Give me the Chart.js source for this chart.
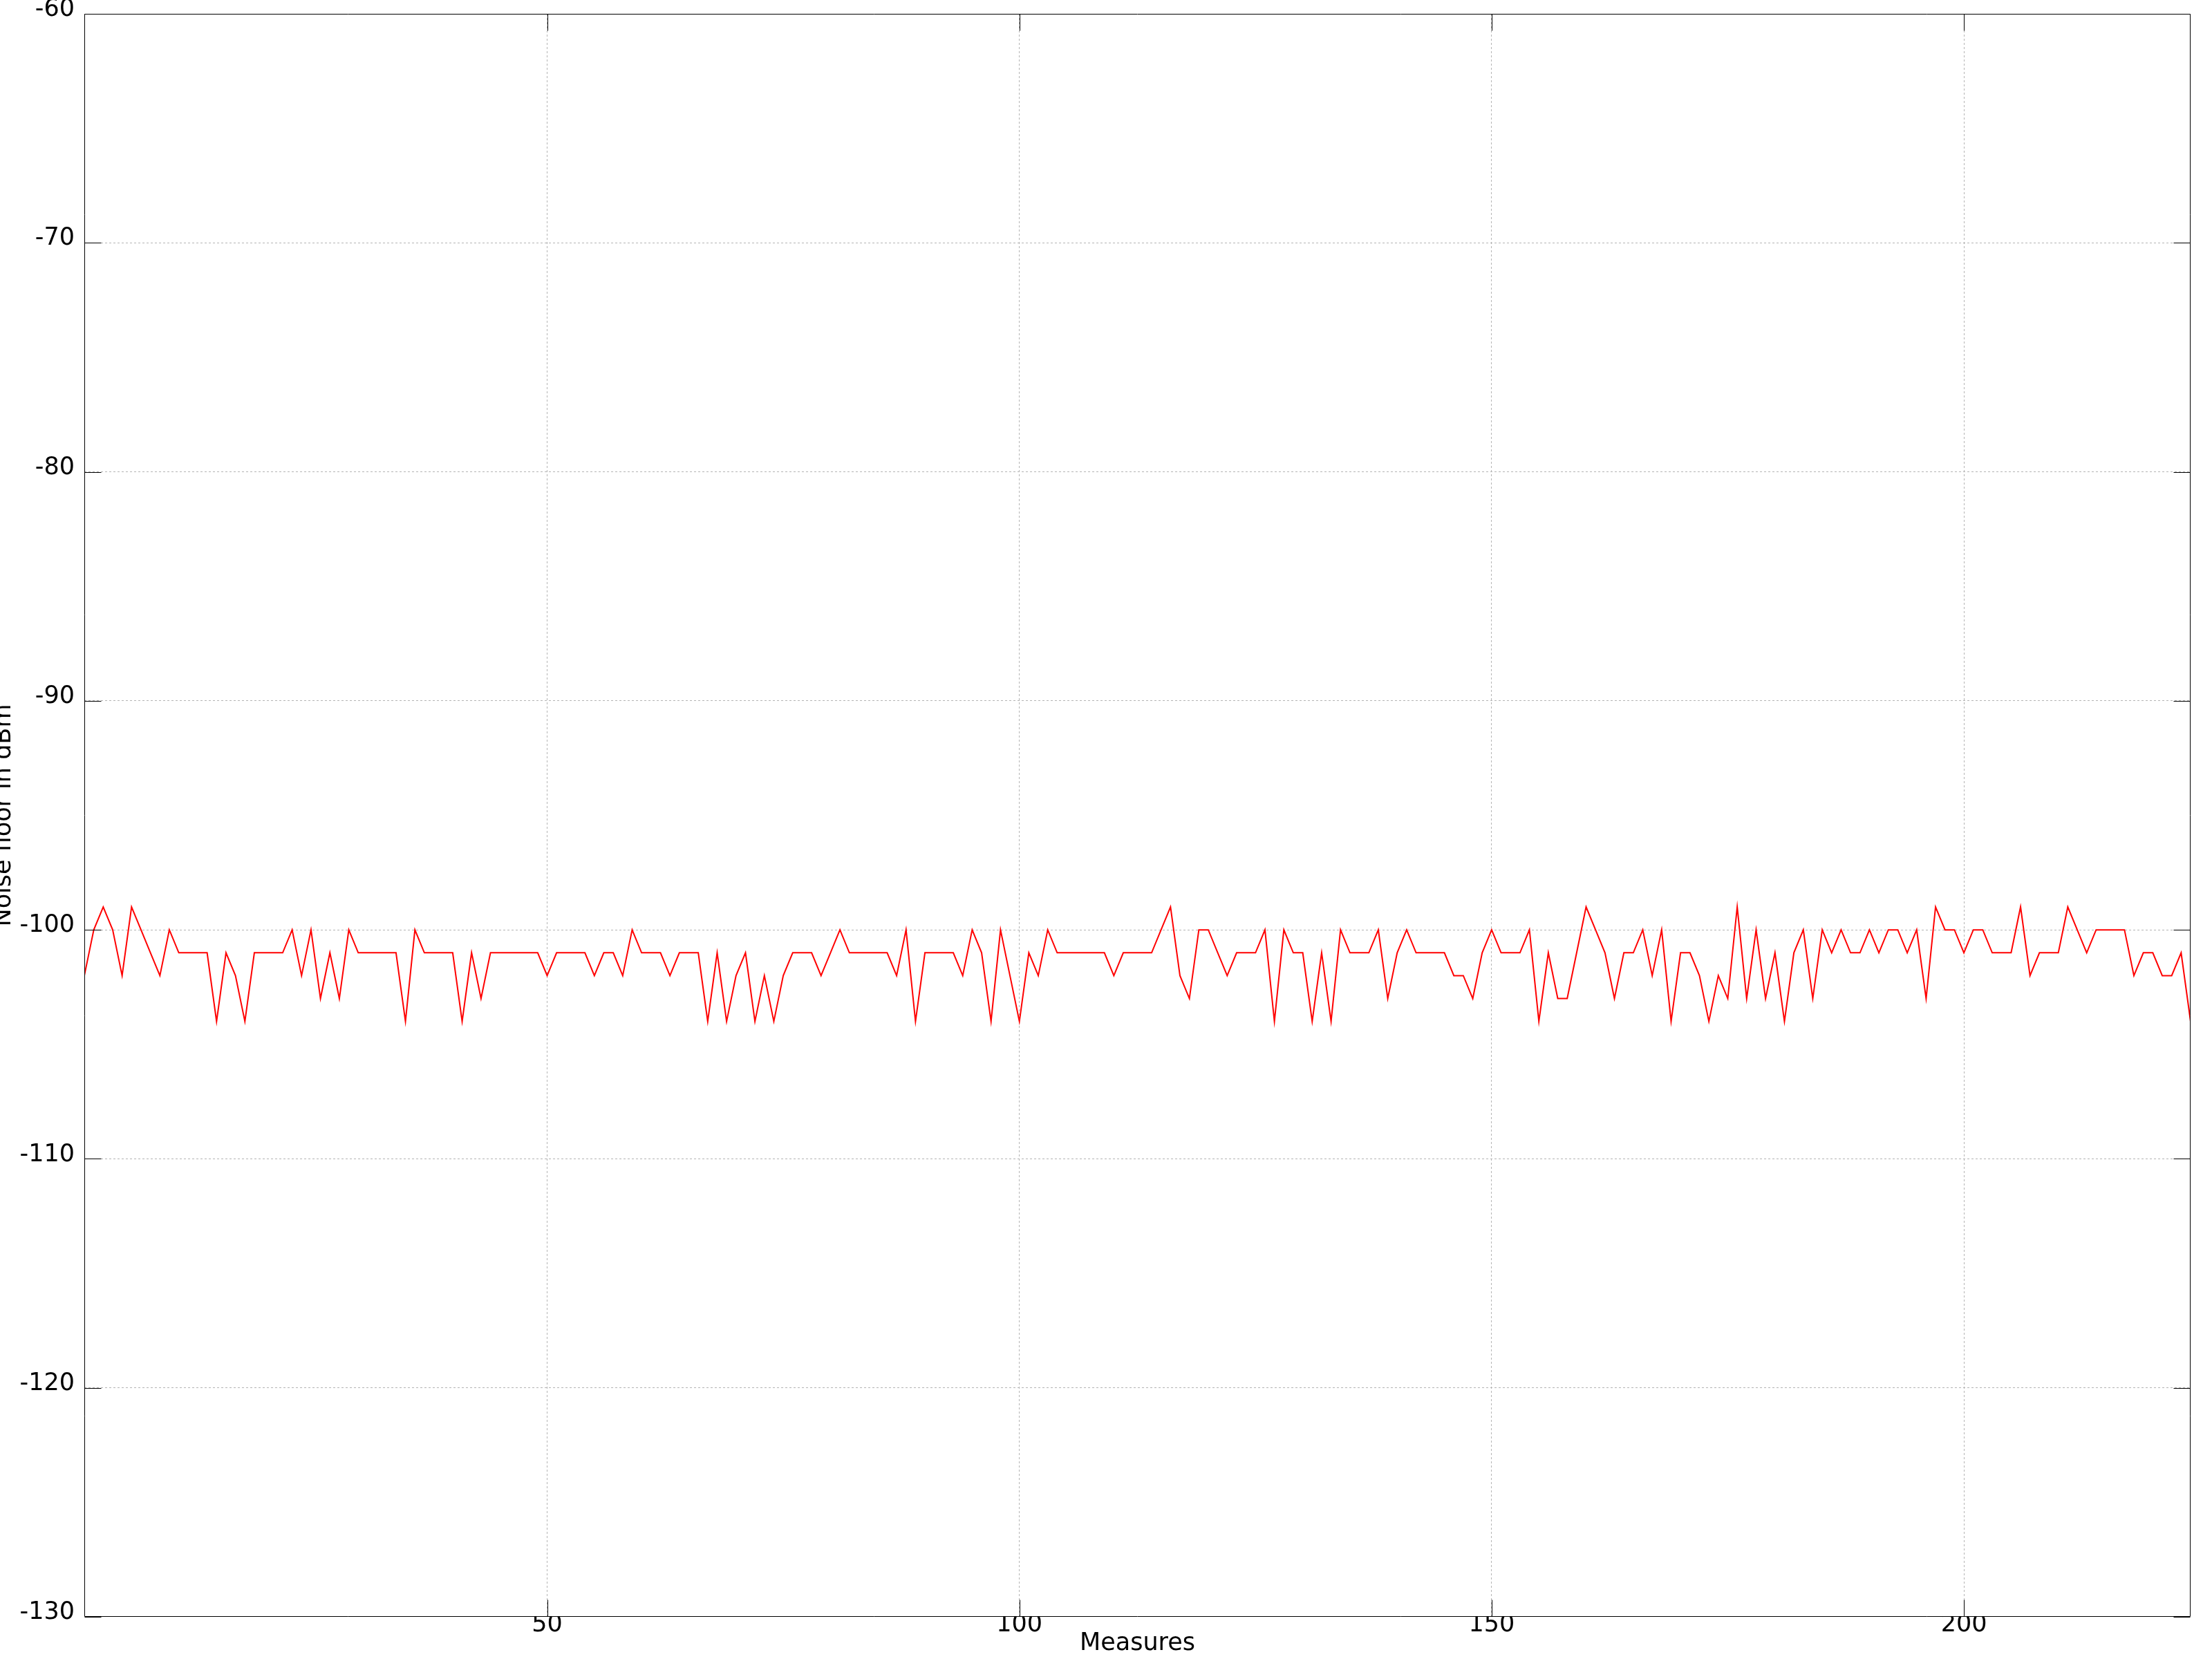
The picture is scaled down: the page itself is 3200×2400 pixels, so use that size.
<!DOCTYPE html>
<html>
<head>
<meta charset="utf-8">
<script src="https://cdn.jsdelivr.net/npm/chart.js@4/dist/chart.umd.min.js"></script>
<style>
  html, body { margin: 0; padding: 0; background: #fff; }
  #wrap { width: 3200px; height: 2400px; }
</style>
</head>
<body>
<div id="wrap"><canvas id="c" width="3200" height="2400"></canvas></div>
<script>
// ---- data ----
const noiseFloor = [
  -102,-100,-99,-100,-102,-99,-100,-101,-102,-100,
  -101,-101,-101,-101,-104,-101,-102,-104,-101,-101,
  -101,-101,-100,-102,-100,-103,-101,-103,-100,-101,
  -101,-101,-101,-101,-104,-100,-101,-101,-101,-101,
  -104,-101,-103,-101,-101,-101,-101,-101,-101,-102,
  -101,-101,-101,-101,-102,-101,-101,-102,-100,-101,
  -101,-101,-102,-101,-101,-101,-104,-101,-104,-102,
  -101,-104,-102,-104,-102,-101,-101,-101,-102,-101,
  -100,-101,-101,-101,-101,-101,-102,-100,-104,-101,
  -101,-101,-101,-102,-100,-101,-104,-100,-102,-104,
  -101,-102,-100,-101,-101,-101,-101,-101,-101,-102,
  -101,-101,-101,-101,-100,-99,-102,-103,-100,-100,
  -101,-102,-101,-101,-101,-100,-104,-100,-101,-101,
  -104,-101,-104,-100,-101,-101,-101,-100,-103,-101,
  -100,-101,-101,-101,-101,-102,-102,-103,-101,-100,
  -101,-101,-101,-100,-104,-101,-103,-103,-101,-99,
  -100,-101,-103,-101,-101,-100,-102,-100,-104,-101,
  -101,-102,-104,-102,-103,-99,-103,-100,-103,-101,
  -104,-101,-100,-103,-100,-101,-100,-101,-101,-100,
  -101,-100,-100,-101,-100,-103,-99,-100,-100,-101,
  -100,-100,-101,-101,-101,-99,-102,-101,-101,-101,
  -99,-100,-101,-100,-100,-100,-100,-102,-101,-101,
  -102,-102,-101,-104
];
const measures = noiseFloor.map((_, i) => i + 1);
const xTicks = [50, 100, 150, 200];
const yTicks = [-130, -120, -110, -100, -90, -80, -70, -60];
const xTitle = 'Measures';
const yTitle = 'Noise floor in dBm';

const FONT = 'DejaVu Sans';

const framePlugin = {
  id: 'frame',
  afterDatasetsDraw(chart) {
    const { ctx, chartArea: a, scales: { x, y } } = chart;
    const len = 24;
    ctx.save();
    ctx.strokeStyle = '#000';
    ctx.lineWidth = 1;
    ctx.setLineDash([]);
    const L = Math.round(a.left) + 0.5, R = Math.round(a.right) - 0.5;
    const T = Math.round(a.top) + 0.5, B = Math.round(a.bottom) - 0.5;
    ctx.beginPath();
    ctx.rect(L, T, R - L, B - T);
    xTicks.forEach(v => {
      const px = Math.round(x.getPixelForValue(v)) + 0.5;
      ctx.moveTo(px, B); ctx.lineTo(px, B - len);
      ctx.moveTo(px, T); ctx.lineTo(px, T + len);
    });
    yTicks.forEach(v => {
      const py = Math.round(y.getPixelForValue(v)) + 0.5;
      ctx.moveTo(L, py); ctx.lineTo(L + len, py);
      ctx.moveTo(R, py); ctx.lineTo(R - len, py);
    });
    ctx.stroke();
    ctx.restore();
  }
};

new Chart(document.getElementById('c'), {
  type: 'line',
  data: {
    datasets: [{
      data: measures.map((m, i) => ({ x: m, y: noiseFloor[i] })),
      borderColor: '#ff0000',
      borderWidth: 2,
      pointRadius: 0,
      tension: 0,
      fill: false
    }]
  },
  options: {
    responsive: false,
    animation: false,
    devicePixelRatio: 1,
    layout: { padding: { top: 20, right: 31, left: 0, bottom: 0 } },
    plugins: { legend: { display: false }, tooltip: { enabled: false } },
    scales: {
      x: {
        type: 'linear',
        min: 1,
        max: 224,
        afterBuildTicks: s => { s.ticks = xTicks.map(v => ({ value: v })); },
        afterFit: s => { s.height = 61; s.paddingLeft = 0; s.paddingRight = 0; },
        grid: { color: '#b4b4b4', lineWidth: 1, drawTicks: false },
        border: { display: false, dash: [3, 3] },
        ticks: { font: { family: FONT, size: 35 }, color: '#000', padding: -9, maxRotation: 0, autoSkip: false },
        title: { display: true, text: xTitle, color: '#000', font: { family: FONT, size: 35 }, padding: { top: 0, bottom: 1 } }
      },
      y: {
        min: -130,
        max: -60,
        afterBuildTicks: s => { s.ticks = yTicks.map(v => ({ value: v })); },
        afterFit: s => { s.width = 122; s.paddingTop = 0; s.paddingBottom = 0; },
        grid: { color: ctx => (ctx.tick && (ctx.tick.value === -60 || ctx.tick.value === -130)) ? 'rgba(0,0,0,0)' : '#b4b4b4', lineWidth: 1, drawTicks: false },
        border: { display: false, dash: [3, 3] },
        ticks: { font: { family: FONT, size: 35 }, color: '#000', padding: 14, labelOffset: -6, autoSkip: false },
        title: { display: true, text: yTitle, color: '#000', font: { family: FONT, size: 35 }, padding: { top: -15, bottom: 0 } }
      }
    }
  },
  plugins: [framePlugin]
});
</script>
</body>
</html>
